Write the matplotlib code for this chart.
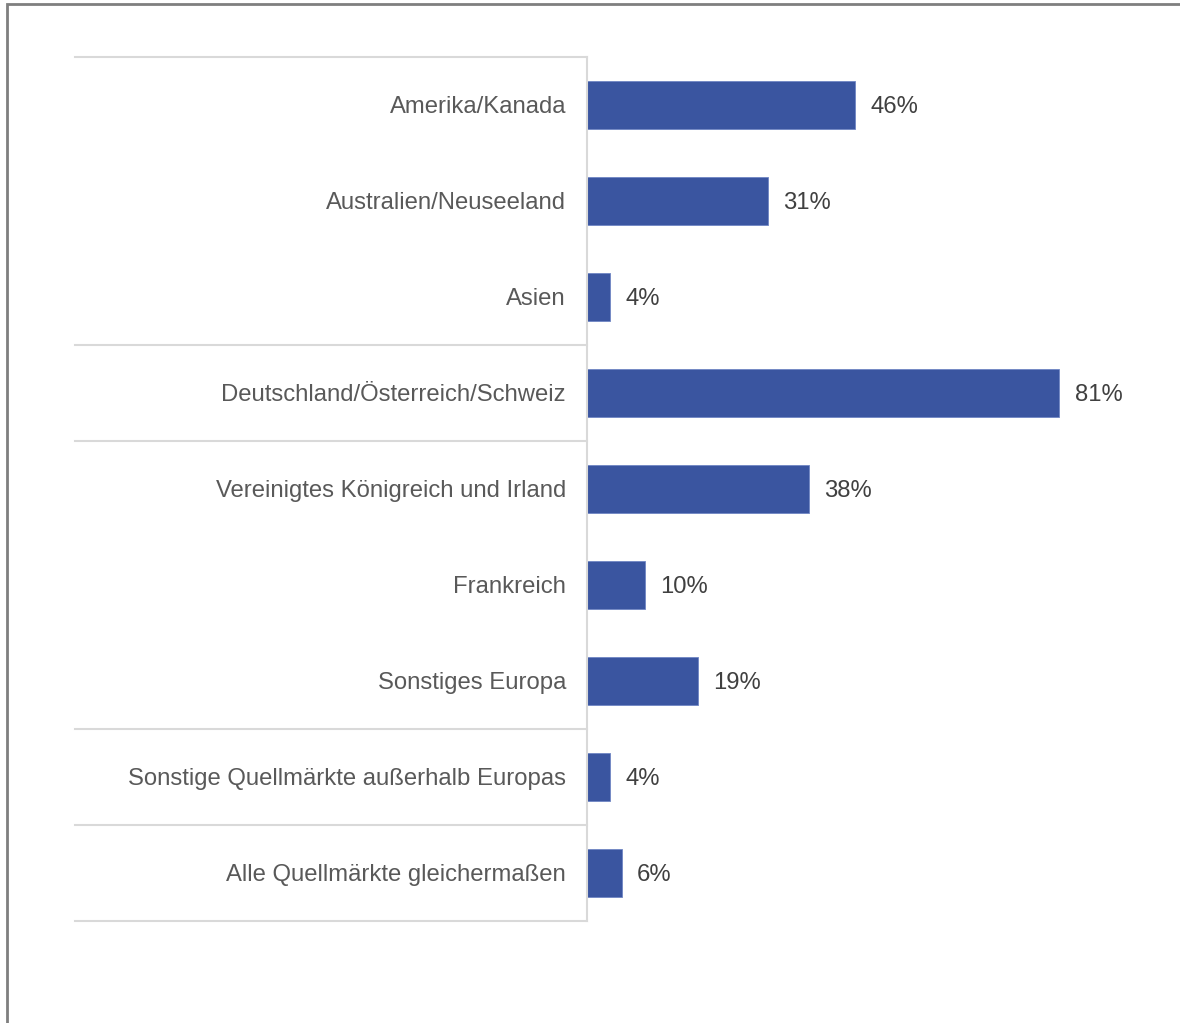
import matplotlib.pyplot as plt
from matplotlib.patches import Rectangle

plt.rcParams["font.family"] = ["Liberation Sans", "DejaVu Sans"]

kategorien = ["Amerika/Kanada", "Australien/Neuseeland", "Asien",
              "Deutschland/Österreich/Schweiz", "Vereinigtes Königreich und Irland",
              "Frankreich", "Sonstiges Europa",
              "Sonstige Quellmärkte außerhalb Europas", "Alle Quellmärkte gleichermaßen"]
werte = [46, 31, 4, 81, 38, 10, 19, 4, 6]
# Trennlinien nach diesen Zeilen (Index)
gruppen_grenzen = [0, 3, 4, 7, 8, 9]

W, H = 1180, 1023
fig = plt.figure(figsize=(W / 100, H / 100), dpi=100)

# Achse: links bei x=587, oben y=57, unten y=921
ax = fig.add_axes([587 / W, 1 - 921 / H, (1172 - 587) / W, (921 - 57) / H])
n = len(kategorien)
pos = list(range(n))
ax.barh(pos, werte, height=0.5, color="#3A55A0", edgecolor="#6f86c4", linewidth=0.6)
ax.set_ylim(n - 0.5, -0.5)
ax.set_xlim(0, 100.3)
ax.axis("off")

for i, (k, v) in enumerate(zip(kategorien, werte)):
    ax.text(v + 2.6, i + 0.02, f"{v}%", va="center", ha="left", fontsize=17.2, color="#404040")
    ax.text(-3.6, i + 0.02, k, va="center", ha="right", fontsize=17.2, color="#595959")

# Vertikale Linie und Gruppentrennlinien
grau = "#d9d9d9"
ax.plot([0, 0], [-0.5, n - 0.5], color=grau, lw=1.5, clip_on=False)
x_links = -(587 - 75) / (1172 - 587) * 100.3
for g in gruppen_grenzen:
    ax.plot([x_links, 0], [g - 0.5, g - 0.5], color=grau, lw=1.5, clip_on=False)

# Rahmen
fig.patches.append(Rectangle((7 / W, -0.1), 1.2, 1 - 4 / H + 0.1, transform=fig.transFigure,
                             fill=False, edgecolor="#7f7f7f", linewidth=2))

fig.savefig("out.png", dpi=100, facecolor="white")
